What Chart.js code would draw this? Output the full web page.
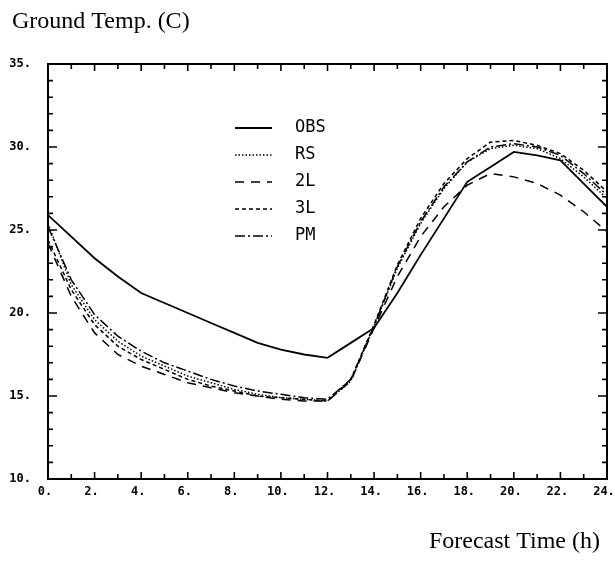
<!DOCTYPE html>
<html>
<head>
<meta charset="utf-8">
<script src="https://cdn.jsdelivr.net/npm/chart.js@4.4.1/dist/chart.umd.min.js"></script>
<style>
  html, body { margin: 0; padding: 0; background: #fff; }
  canvas { display: block; }
</style>
</head>
<body>
<canvas id="chart" width="615" height="562"></canvas>
<script>
// forecast hour, 0..24
const hours = [0, 1, 2, 3, 4, 5, 6, 7, 8, 9, 10, 11, 12, 13, 14, 15, 16, 17, 18, 19, 20, 21, 22, 23, 24];

// ground temperature (C)
const obs = [25.9, 24.6, 23.3, 22.2, 21.2, 20.6, 20.0, 19.4, 18.8, 18.2, 17.8, 17.5, 17.3, 18.2, 19.1, 21.2, 23.5, 25.7, 27.9, 28.8, 29.7, 29.5, 29.2, 27.8, 26.4];
const rs  = [25.4, 21.7, 19.6, 18.3, 17.4, 16.8, 16.2, 15.8, 15.4, 15.1, 14.9, 14.8, 14.7, 15.9, 19.2, 22.7, 25.4, 27.5, 29.1, 29.9, 30.1, 29.9, 29.3, 28.2, 26.9];
const l2  = [24.2, 21.0, 18.8, 17.5, 16.8, 16.3, 15.8, 15.5, 15.2, 15.0, 14.8, 14.7, 14.7, 15.9, 19.1, 22.2, 24.6, 26.4, 27.7, 28.4, 28.2, 27.8, 27.1, 26.1, 24.9];
const l3  = [24.4, 21.4, 19.3, 18.0, 17.2, 16.6, 16.0, 15.6, 15.3, 15.0, 14.9, 14.8, 14.7, 16.0, 19.3, 22.9, 25.7, 27.8, 29.3, 30.3, 30.4, 30.1, 29.6, 28.6, 27.3];
const pm  = [25.2, 22.0, 19.9, 18.6, 17.7, 17.0, 16.5, 16.0, 15.6, 15.3, 15.1, 14.9, 14.8, 16.0, 19.2, 22.8, 25.5, 27.6, 29.1, 30.0, 30.2, 30.0, 29.5, 28.4, 27.1];

const seriesNames = ['OBS', 'RS', '2L', '3L', 'PM'];
const titleText = 'Ground Temp. (C)';
const xAxisText = 'Forecast Time (h)';

const TICK_FONT = { family: 'DejaVu Sans Mono', weight: 'bold', size: 12 };

function toPoints(values) {
    return hours.map((h, i) => ({ x: h, y: values[i] }));
}

function makeDataset(label, values, dash, width) {
    return {
        label,
        data: toPoints(values),
        borderColor: '#000',
        borderWidth: width,
        borderDash: dash,
        pointRadius: 0,
        tension: 0,
        fill: false,
    };
}

// inward ticks on all four sides plus the box
const framePlugin = {
    id: 'frame',
    afterDatasetsDraw(chart) {
        const { ctx, chartArea: a, scales: { x, y } } = chart;
        ctx.save();
        ctx.strokeStyle = '#000';
        ctx.lineWidth = 2;
        ctx.setLineDash([]);
        ctx.strokeRect(a.left, a.top, a.right - a.left, a.bottom - a.top);
        ctx.lineWidth = 1.6;
        ctx.beginPath();
        for (let h = x.min; h <= x.max; h++) {
            const px = x.getPixelForValue(h);
            const len = h % 2 === 0 ? 7 : 5;
            ctx.moveTo(px, a.bottom); ctx.lineTo(px, a.bottom - len);
            ctx.moveTo(px, a.top); ctx.lineTo(px, a.top + len);
        }
        for (let v = y.min; v <= y.max; v++) {
            const py = y.getPixelForValue(v);
            const len = v % 5 === 0 ? 9 : 5;
            ctx.moveTo(a.left, py); ctx.lineTo(a.left + len, py);
            ctx.moveTo(a.right, py); ctx.lineTo(a.right - len, py);
        }
        ctx.stroke();
        ctx.restore();
    },
};

// legend inside the plot, lines drawn with each dataset's dash
const legendPlugin = {
    id: 'innerLegend',
    afterDatasetsDraw(chart) {
        const { ctx } = chart;
        ctx.save();
        ctx.fillStyle = '#000';
        ctx.strokeStyle = '#000';
        ctx.font = '17px "DejaVu Sans Mono"';
        ctx.textBaseline = 'middle';
        chart.data.datasets.forEach((ds, i) => {
            const yy = 128 + i * 27;
            ctx.lineWidth = ds.borderWidth;
            ctx.setLineDash(ds.borderDash || []);
            ctx.beginPath();
            ctx.moveTo(235, yy);
            ctx.lineTo(272, yy);
            ctx.stroke();
            ctx.fillText(ds.label, 295, yy);
        });
        ctx.restore();
    },
};

const captionPlugin = {
    id: 'captions',
    afterDraw(chart) {
        const { ctx } = chart;
        ctx.save();
        ctx.fillStyle = '#000';
        ctx.font = '24px "Liberation Serif"';
        ctx.textBaseline = 'alphabetic';
        ctx.textAlign = 'left';
        ctx.fillText(titleText, 12, 28);
        ctx.textAlign = 'right';
        ctx.fillText(xAxisText, 600, 548);
        ctx.restore();
    },
};

new Chart(document.getElementById('chart').getContext('2d'), {
    type: 'line',
    data: {
        datasets: [
            makeDataset(seriesNames[0], obs, [], 1.8),
            makeDataset(seriesNames[1], rs, [1.5, 2], 1.5),
            makeDataset(seriesNames[2], l2, [9, 7], 1.5),
            makeDataset(seriesNames[3], l3, [4, 3], 1.5),
            makeDataset(seriesNames[4], pm, [10, 3, 2, 3], 1.5),
        ],
    },
    options: {
        responsive: false,
        animation: false,
        layout: { padding: { left: 0, top: 64, right: 8, bottom: 0 } },
        scales: {
            x: {
                type: 'linear',
                min: 0,
                max: 24,
                grid: { display: false, drawTicks: false },
                border: { display: false },
                ticks: {
                    stepSize: 2,
                    autoSkip: false,
                    maxRotation: 0,
                    padding: 6,
                    labelOffset: -3,
                    color: '#000',
                    font: TICK_FONT,
                    callback: (v) => v + '.',
                },
                afterFit: (s) => {
                    s.height = 83;
                    s.paddingLeft = 0;
                    s.paddingRight = 0;
                },
            },
            y: {
                min: 10,
                max: 35,
                grid: { display: false, drawTicks: false },
                border: { display: false },
                ticks: {
                    stepSize: 5,
                    padding: 17,
                    color: '#000',
                    font: TICK_FONT,
                    callback: (v) => v + '.',
                },
                afterFit: (s) => {
                    s.width = 48;
                    s.paddingTop = 0;
                    s.paddingBottom = 0;
                },
            },
        },
        plugins: {
            legend: { display: false },
            tooltip: { enabled: false },
        },
    },
    plugins: [framePlugin, legendPlugin, captionPlugin],
});
</script>
</body>
</html>
